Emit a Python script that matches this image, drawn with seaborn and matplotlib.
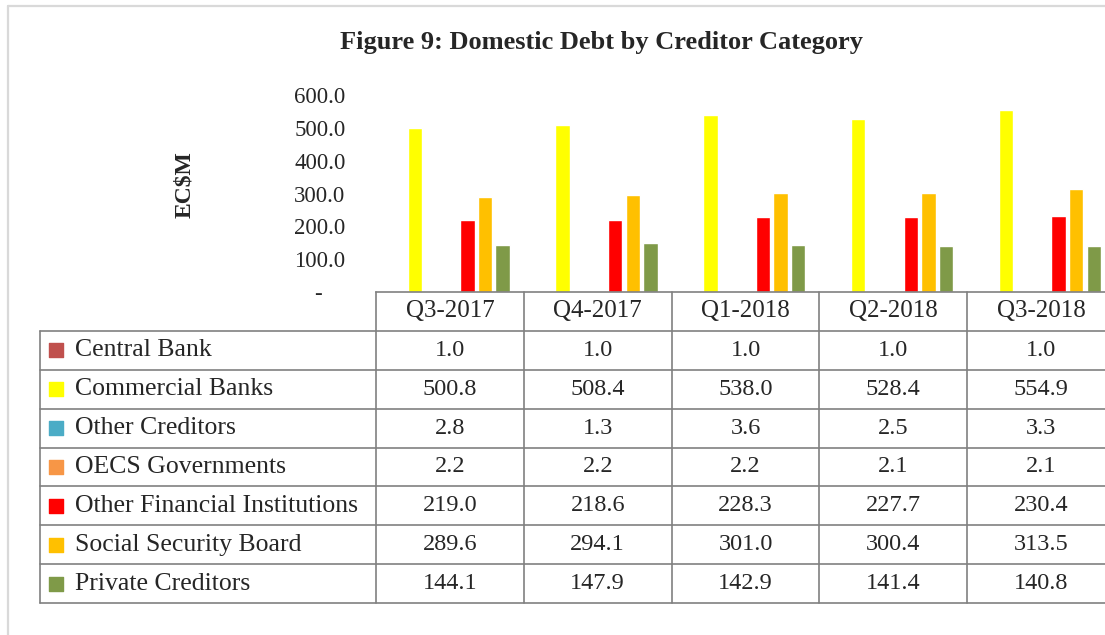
import numpy as np
import pandas as pd
import matplotlib
matplotlib.use("Agg")
import matplotlib.pyplot as plt
import seaborn as sns
from matplotlib.lines import Line2D

quarters = ["Q3-2017", "Q4-2017", "Q1-2018", "Q2-2018", "Q3-2018"]
creditors = ["Central Bank", "Commercial Banks", "Other Creditors", "OECS Governments",
             "Other Financial Institutions", "Social Security Board", "Private Creditors"]

central_bank = [1.0, 1.0, 1.0, 1.0, 1.0]
commercial_banks = [500.8, 508.4, 538.0, 528.4, 554.9]
other_creditors = [2.8, 1.3, 3.6, 2.5, 3.3]
oecs_governments = [2.2, 2.2, 2.2, 2.1, 2.1]
other_financial = [219.0, 218.6, 228.3, 227.7, 230.4]
social_security = [289.6, 294.1, 301.0, 300.4, 313.5]
private_creditors = [144.1, 147.9, 142.9, 141.4, 140.8]

colors = ["#C0504D", "#FFFF00", "#4BACC6", "#F79646", "#FF0000", "#FFC000", "#7F9A48"]
yticks = [0, 100, 200, 300, 400, 500, 600]

series = [central_bank, commercial_banks, other_creditors, oecs_governments,
          other_financial, social_security, private_creditors]

rows = []
for name, vals in zip(creditors, series):
    for q, v in zip(quarters, vals):
        rows.append({"quarter": q, "creditor": name, "value": v})
df = pd.DataFrame(rows)

sns.set_style("white")
plt.rcParams["font.family"] = ["Liberation Serif", "DejaVu Serif"]

W, H = 1105, 635
fig = plt.figure(figsize=(W / 100, H / 100), dpi=100)


def box(x0, y0, x1, y1):
    return [x0 / W, 1 - y1 / H, (x1 - x0) / W, (y1 - y0) / H]


# outer chart border (only top/left visible in the crop)
fig.add_artist(Line2D([8 / W, 8 / W], [0, 1 - 6 / H], color="#D9D9D9", lw=1.6))
fig.add_artist(Line2D([8 / W, 1], [1 - 6 / H, 1 - 6 / H], color="#D9D9D9", lw=1.6))

# bar chart
ax = fig.add_axes(box(376, 95, 1115, 292))
sns.barplot(data=df, x="quarter", y="value", hue="creditor",
            order=quarters, hue_order=creditors, palette=colors,
            width=0.833, gap=0.18, saturation=1, errorbar=None,
            legend=False, ax=ax)
ax.set_xlim(-0.5, 4.5)
ax.set_ylim(0, 600)
ax.set_yticks(yticks)
ax.set_yticklabels(["-    " if v == 0 else f"{v:.1f}" for v in yticks])
ax.tick_params(axis="y", length=0, pad=22, labelsize=16.5)
ax.tick_params(axis="x", length=0, labelbottom=False)
ax.set_xlabel("")
ax.set_ylabel("")
for s in ["top", "right", "left"]:
    ax.spines[s].set_visible(False)
ax.spines["bottom"].set_color("#808080")
ax.spines["bottom"].set_linewidth(1.2)
ax.patch.set_alpha(0)

fig.text(185 / W, 1 - 185 / H, "EC$M", rotation=90, ha="center", va="center",
         fontsize=17, fontweight="bold")
fig.text(601 / W, 1 - 43 / H, "Figure 9: Domestic Debt by Creditor Category",
         ha="center", va="center", fontsize=19, fontweight="bold")

# data table underneath
col_px = (1115 - 376) / 5
xl = -0.5 - (376 - 40) / col_px
tax = fig.add_axes(box(40, 292, 1115, 603))
tax.set_xlim(xl, 4.5)
tax.set_ylim(8, 0)
tax.axis("off")

lc = "#808080"
for r in range(1, 9):
    tax.plot([xl, 4.5], [r, r], color=lc, lw=1.2, clip_on=False)
tax.plot([xl, xl], [1, 8], color=lc, lw=1.2, clip_on=False)
for k in range(6):
    tax.plot([-0.5 + k, -0.5 + k], [0, 8], color=lc, lw=1.2, clip_on=False)

for i, q in enumerate(quarters):
    tax.text(i, 0.5, q, ha="center", va="center", fontsize=18)

for r, (name, vals, c) in enumerate(zip(creditors, series, colors), start=1):
    tax.scatter([xl + (56 - 40) / col_px], [r + 0.5], marker="s", s=100,
                color=c, clip_on=False)
    tax.text(xl + (75 - 40) / col_px, r + 0.5, name, ha="left", va="center",
             fontsize=18.5)
    for i, v in enumerate(vals):
        tax.text(i, r + 0.5, f"{v:.1f}", ha="center", va="center", fontsize=17.5)

fig.savefig("out.png", dpi=100)
